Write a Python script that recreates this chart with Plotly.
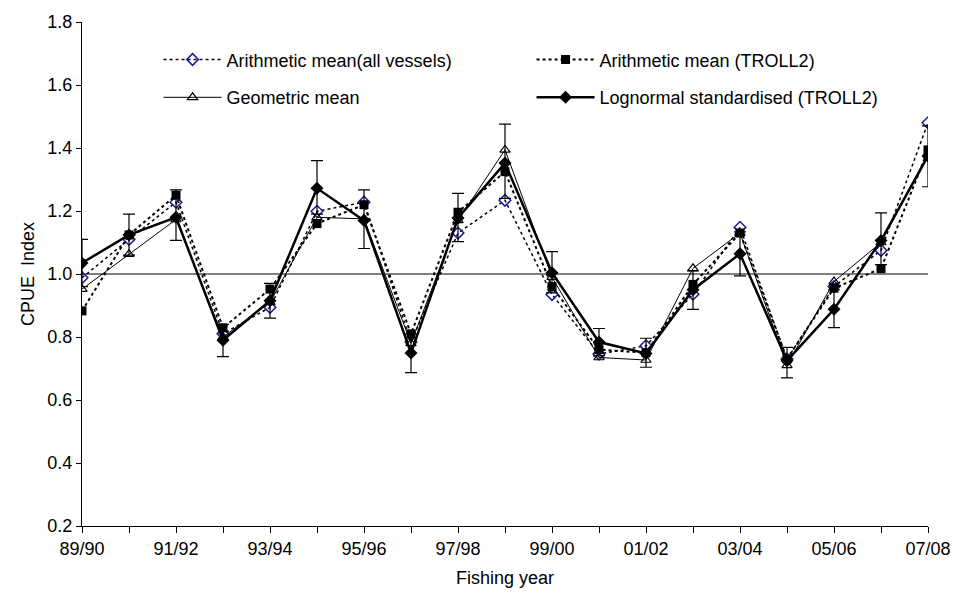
import plotly.graph_objects as go

years = ["89/90", "90/91", "91/92", "92/93", "93/94", "94/95", "95/96", "96/97", "97/98", "98/99",
         "99/00", "00/01", "01/02", "02/03", "03/04", "04/05", "05/06", "06/07", "07/08"]

arith_all = [0.988, 1.11, 1.228, 0.81, 0.894, 1.199, 1.228, 0.784, 1.13, 1.234,
             0.935, 0.746, 0.772, 0.936, 1.148, 0.73, 0.96, 1.075, 1.48]
arith_troll2 = [0.883, 1.124, 1.25, 0.829, 0.952, 1.16, 1.22, 0.81, 1.196, 1.325,
                0.96, 0.76, 0.75, 0.967, 1.13, 0.73, 0.955, 1.017, 1.394]
geometric = [0.952, 1.063, 1.173, 0.80, 0.91, 1.18, 1.175, 0.78, 1.17, 1.394,
             0.99, 0.735, 0.727, 1.018, 1.13, 0.71, 0.976, 1.10, 1.38]
lognormal = [1.035, 1.124, 1.18, 0.79, 0.915, 1.272, 1.17, 0.749, 1.178, 1.352,
             1.004, 0.784, 0.748, 0.95, 1.064, 0.725, 0.888, 1.106, 1.375]
lognormal_upper = [1.11, 1.19, 1.267, 0.84, 0.97, 1.36, 1.267, 0.81, 1.256, 1.476,
                   1.071, 0.827, 0.796, 1.01, 1.134, 0.767, 0.95, 1.194, 1.47]
lognormal_lower = [0.96, 1.06, 1.107, 0.738, 0.86, 1.19, 1.081, 0.687, 1.103, 1.24,
                   0.94, 0.74, 0.704, 0.888, 0.994, 0.67, 0.83, 1.03, 1.277]

x = list(range(len(years)))
ticktext = [y if i % 2 == 0 else "" for i, y in enumerate(years)]
err_plus = [u - c for u, c in zip(lognormal_upper, lognormal)]
err_minus = [c - l for c, l in zip(lognormal, lognormal_lower)]

FONT = "Liberation Sans, Arial, sans-serif"
FS = 18

fig = go.Figure()
fig.add_trace(go.Scatter(
    x=x, y=arith_all, name="Arithmetic mean(all vessels)", mode="lines+markers",
    line=dict(color="black", width=1.5, dash="dot"),
    marker=dict(symbol="diamond-open", size=9, color="#1a1a9c", line=dict(width=1.5, color="#1a1a9c")),
    legend="legend"))
fig.add_trace(go.Scatter(
    x=x, y=arith_troll2, name="Arithmetic mean (TROLL2)", mode="lines+markers",
    line=dict(color="black", width=2, dash="dot"),
    marker=dict(symbol="square", size=9, color="black"),
    legend="legend"))
fig.add_trace(go.Scatter(
    x=x, y=geometric, name="Geometric mean", mode="lines+markers",
    line=dict(color="black", width=1),
    marker=dict(symbol="triangle-up-open", size=9, color="black", line=dict(width=1.2, color="black")),
    legend="legend2"))
fig.add_trace(go.Scatter(
    x=x, y=lognormal, name="Lognormal standardised (TROLL2)", mode="lines+markers",
    line=dict(color="black", width=2.5),
    marker=dict(symbol="diamond", size=10, color="black"),
    error_y=dict(type="data", symmetric=False, array=err_plus, arrayminus=err_minus,
                 color="black", thickness=1.2, width=6),
    legend="legend2"))

fig.add_shape(type="line", xref="paper", x0=0, x1=1, yref="y", y0=1.0, y1=1.0,
              line=dict(color="black", width=1), layer="below")

legend_common = dict(orientation="h", xanchor="left", yanchor="middle", bgcolor="rgba(0,0,0,0)",
                     font=dict(family=FONT, size=FS, color="black"),
                     entrywidth=300, entrywidthmode="pixels", itemwidth=58, traceorder="normal")

fig.update_layout(
    width=963, height=601,
    margin=dict(l=82, r=28, t=20, b=75),
    plot_bgcolor="white", paper_bgcolor="white",
    font=dict(family=FONT, size=FS, color="black"),
    showlegend=True,
    legend=dict(x=0.0905, y=0.925, **legend_common),
    legend2=dict(x=0.0905, y=0.85, **legend_common),
    xaxis=dict(
        range=[0, 18], tickmode="array", tickvals=x, ticktext=ticktext,
        showgrid=False, zeroline=False, showline=True, linecolor="black", linewidth=1,
        ticks="outside", ticklen=6, tickcolor="black",
        tickfont=dict(family=FONT, size=FS, color="black"),
        title=dict(text="Fishing year", font=dict(family=FONT, size=FS, color="black"), standoff=13),
    ),
    yaxis=dict(
        range=[0.2, 1.8], dtick=0.2, tick0=0.2, tickformat=".1f",
        showgrid=False, zeroline=False, showline=True, linecolor="black", linewidth=1,
        ticks="outside", ticklen=5, tickcolor="black",
        tickfont=dict(family=FONT, size=FS, color="black"),
        title=dict(text="CPUE\u00a0 Index", font=dict(family=FONT, size=FS, color="black"), standoff=8),
    ),
)

fig.write_html("out.html")
